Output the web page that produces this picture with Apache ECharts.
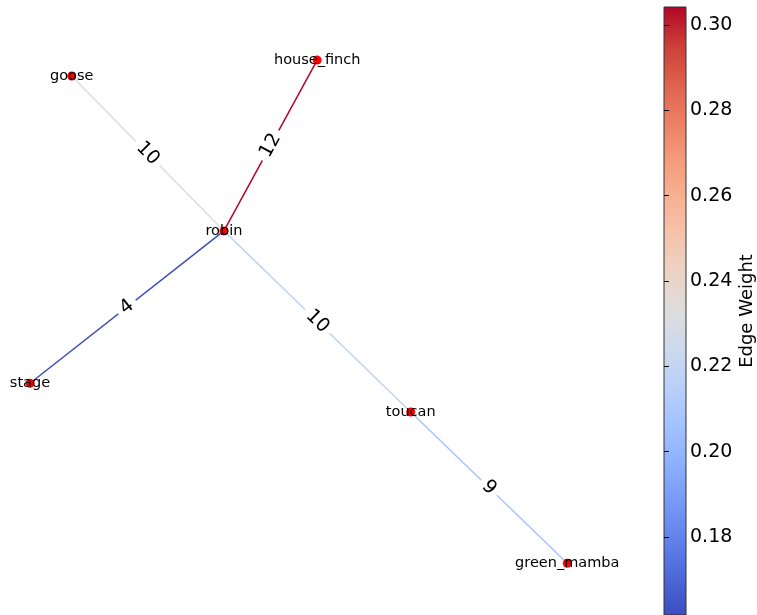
<!DOCTYPE html>
<html>
<head>
<meta charset="utf-8">
<script src="https://cdn.jsdelivr.net/npm/echarts@6/dist/echarts.min.js"></script>
<style>
  html, body { margin: 0; padding: 0; background: #fff; }
  #chart { width: 757px; height: 615px; }
</style>
</head>
<body>
<div id="chart"></div>
<script>
// Node layout (spring-layout style coordinates)
const nodeNames = ['goose', 'house_finch', 'robin', 'stage', 'toucan', 'green_mamba'];
const nodeX = [-0.837, 0.063, -0.279, -0.990, 0.406, 0.980];
const nodeY = [0.828, 0.885, 0.274, -0.271, -0.374, -0.915];

// Edges: endpoints, printed label and colour weight
const edgeSources = ['robin', 'robin', 'robin', 'robin', 'toucan'];
const edgeTargets = ['goose', 'house_finch', 'stage', 'toucan', 'green_mamba'];
const edgeLabels = [10, 12, 4, 10, 9];
const edgeWeights = [0.233, 0.3042, 0.1617, 0.219, 0.208];

// Colour bar ticks
const colorbarTicks = [0.18, 0.20, 0.22, 0.24, 0.26, 0.28, 0.30];

// coolwarm colormap stops
const coolwarm = [
  [0.0, [59, 76, 192]], [0.0625, [77, 104, 215]], [0.125, [98, 130, 234]],
  [0.1875, [119, 154, 247]], [0.25, [141, 176, 254]], [0.3125, [163, 194, 255]],
  [0.375, [184, 208, 249]], [0.4375, [204, 217, 238]], [0.5, [221, 221, 221]],
  [0.5625, [236, 211, 197]], [0.625, [245, 196, 172]], [0.6875, [247, 177, 147]],
  [0.75, [244, 154, 123]], [0.8125, [236, 127, 99]], [0.875, [222, 96, 77]],
  [0.9375, [203, 62, 56]], [1.0, [180, 4, 38]]
];

function cmap(t) {
  t = Math.max(0, Math.min(1, t));
  for (let i = 1; i < coolwarm.length; i++) {
    if (t <= coolwarm[i][0]) {
      const [t0, c0] = coolwarm[i - 1];
      const [t1, c1] = coolwarm[i];
      const f = (t - t0) / (t1 - t0);
      const c = c0.map((v, k) => Math.round(v + (c1[k] - v) * f));
      return 'rgb(' + c.join(',') + ')';
    }
  }
  return 'rgb(180,4,38)';
}

const wMin = Math.min(...edgeWeights);
const wMax = Math.max(...edgeWeights);

const nodes = nodeNames.map((n, i) => ({ name: n, value: [nodeX[i], nodeY[i]] }));
const links = edgeSources.map((s, i) => ({
  source: s,
  target: edgeTargets[i],
  value: edgeLabels[i],
  lineStyle: { color: cmap((edgeWeights[i] - wMin) / (wMax - wMin)) }
}));

const gradientStops = coolwarm.map(([t, c]) => ({ offset: t, color: 'rgb(' + c.join(',') + ')' }));

const font = 'DejaVu Sans';
const chart = echarts.init(document.getElementById('chart'), null, { renderer: 'canvas' });

chart.setOption({
  backgroundColor: '#ffffff',
  animation: false,
  grid: [
    { left: 0, top: 0, width: 600, height: 615, show: false },
    {
      left: 664, top: 7, width: 30, bottom: 0, show: true,
      borderColor: '#333', borderWidth: 1,
      backgroundColor: new echarts.graphic.LinearGradient(0, 1, 0, 0, gradientStops)
    }
  ],
  xAxis: [
    { gridIndex: 0, type: 'value', min: -1.1, max: 1.1, show: false },
    { gridIndex: 1, type: 'value', min: 0, max: 1, show: false }
  ],
  yAxis: [
    { gridIndex: 0, type: 'value', min: -1.1, max: 1.1, show: false },
    {
      gridIndex: 1, type: 'value', min: wMin, max: wMax, position: 'right',
      axisLine: { show: false },
      splitLine: { show: false },
      axisTick: { show: true, length: 5, customValues: colorbarTicks, lineStyle: { color: '#000', width: 1 } },
      axisLabel: {
        show: true, customValues: colorbarTicks, margin: 4,
        color: '#000', fontSize: 19, fontFamily: font,
        formatter: v => v.toFixed(2)
      },
      name: 'Edge Weight', nameLocation: 'middle', nameRotate: 90, nameGap: 52,
      nameTextStyle: { color: '#000', fontSize: 18, fontFamily: font }
    }
  ],
  series: [{
    type: 'graph',
    coordinateSystem: 'cartesian2d',
    xAxisIndex: 0,
    yAxisIndex: 0,
    silent: true,
    symbol: 'circle',
    symbolSize: 9,
    itemStyle: { color: '#ff0000' },
    label: {
      show: true, position: 'inside', color: '#000',
      fontSize: 14.5, fontFamily: font
    },
    lineStyle: { width: 1.5, opacity: 1, curveness: 0 },
    edgeLabel: {
      show: true, position: 'insideMiddle', distance: 0,
      formatter: p => String(p.value),
      color: '#000', fontSize: 19, fontFamily: font,
      backgroundColor: '#ffffff', padding: [2, 5]
    },
    emphasis: { disabled: true },
    data: nodes,
    links: links
  }]
});
</script>
</body>
</html>
